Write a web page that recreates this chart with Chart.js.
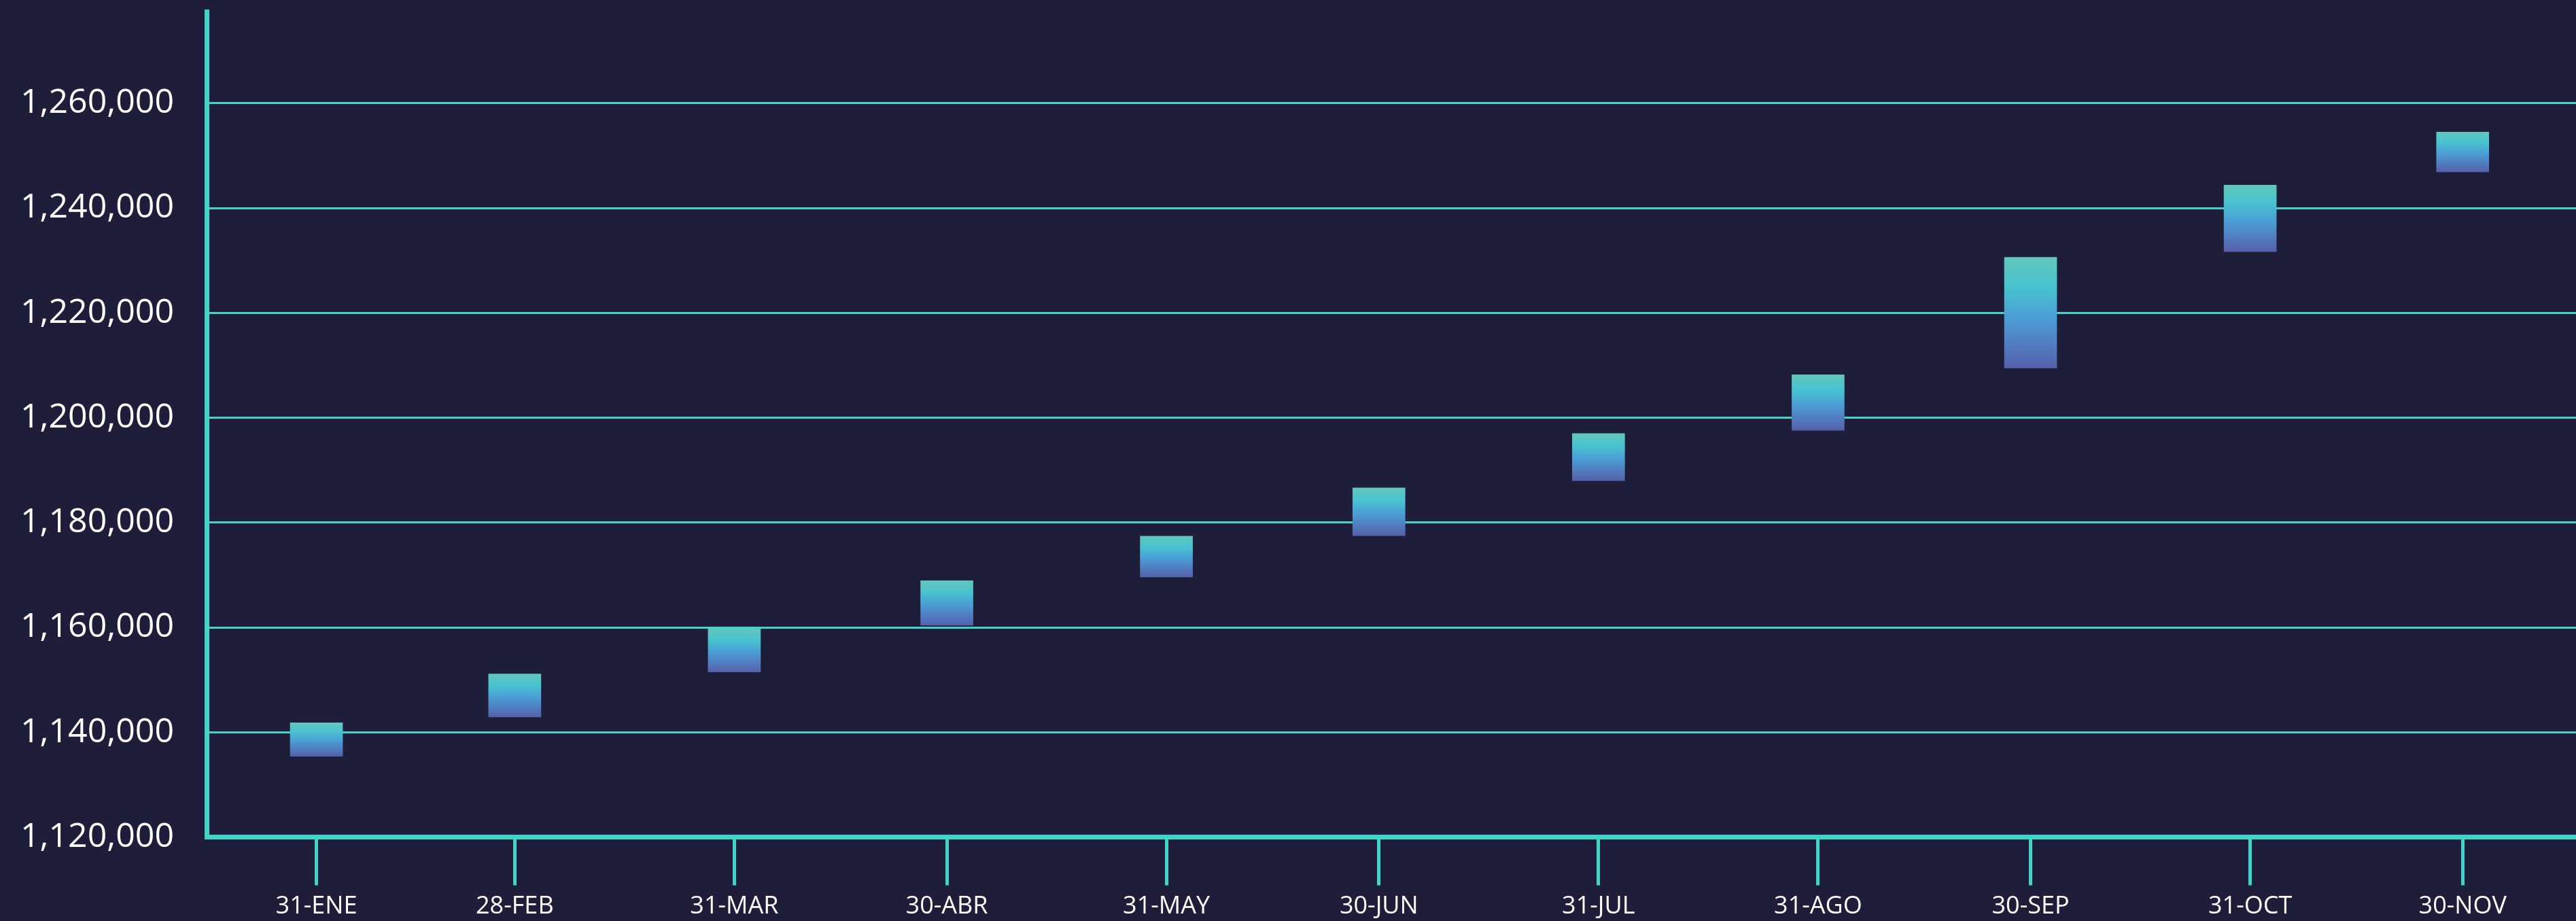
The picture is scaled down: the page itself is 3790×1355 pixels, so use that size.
<!DOCTYPE html>
<html>
<head>
<meta charset="utf-8">
<script src="https://cdn.jsdelivr.net/npm/chart.js@4.4.1/dist/chart.umd.min.js"></script>
<style>
  html, body { margin: 0; padding: 0; background: #1e1e3a; }
  #wrap { width: 3790px; height: 1355px; position: relative; }
</style>
</head>
<body>
<div id="wrap"><canvas id="c"></canvas></div>
<script>
// ---- data ----
const dates = ['01-31','02-28','03-31','04-30','05-31','06-30','07-31','08-31','09-30','10-31','11-30'];
const labels = ['31-ENE','28-FEB','31-MAR','30-ABR','31-MAY','30-JUN','31-JUL','31-AGO','30-SEP','31-OCT','30-NOV'];
const lows  = [1135400, 1142900, 1151500, 1160400, 1169600, 1177500, 1188000, 1197600, 1209500, 1231700, 1246900];
const highs = [1141800, 1151100, 1159700, 1168900, 1177400, 1186600, 1197000, 1208200, 1230600, 1244400, 1254500];
const yTicks = [1120000, 1140000, 1160000, 1180000, 1200000, 1220000, 1240000, 1260000];

// ---- helpers ----
const TEAL = '#42d4c9';
function dayOfYear(md) {
  const [m, d] = md.split('-').map(Number);
  return Math.round((Date.UTC(2023, m - 1, d) - Date.UTC(2023, 0, 1)) / 86400000);
}
const xDays = dates.map(dayOfYear);
const points = xDays.map((x, i) => ({ x: x, y: [lows[i], highs[i]] }));

Chart.defaults.font.family = "'Open Sans', sans-serif";

new Chart(document.getElementById('c'), {
  type: 'bar',
  data: {
    datasets: [{
      data: points,
      barThickness: 77,
      borderWidth: 0,
      borderSkipped: false,
      backgroundColor: (ctx) => {
        const chart = ctx.chart;
        if (!chart.chartArea || ctx.type !== 'data') return '#4a9cd4';
        const ys = chart.scales.y;
        const top = ys.getPixelForValue(ctx.raw.y[1]);
        const bot = ys.getPixelForValue(ctx.raw.y[0]);
        const g = chart.ctx.createLinearGradient(0, top, 0, bot);
        g.addColorStop(0, '#63c6bd');
        g.addColorStop(0.27, '#47c3cf');
        g.addColorStop(0.56, '#4b9bd5');
        g.addColorStop(1, '#5660ab');
        return g;
      }
    }]
  },
  options: {
    responsive: true,
    maintainAspectRatio: false,
    animation: false,
    layout: { padding: { top: 17, left: 0, right: 0, bottom: 0 } },
    plugins: { legend: { display: false }, tooltip: { enabled: false } },
    scales: {
      x: {
        type: 'linear',
        min: xDays[0] - 15.5,
        max: xDays[xDays.length - 1] + 16,
        offset: false,
        afterBuildTicks: (s) => { s.ticks = xDays.map(v => ({ value: v })); },
        afterFit: (s) => { s.height = 123.5; s.paddingLeft = 0; s.paddingRight = 0; },
        grid: { offset: false, drawOnChartArea: false, drawTicks: true, tickLength: 71, tickWidth: 5, tickColor: TEAL },
        border: { display: true, color: TEAL, width: 7 },
        ticks: {
          color: '#ffffff',
          font: { size: 36 },
          padding: 10,
          maxRotation: 0,
          autoSkip: false,
          callback: (v) => labels[xDays.indexOf(v)]
        }
      },
      y: {
        min: 1120000,
        max: 1277500,
        afterBuildTicks: (s) => { s.ticks = yTicks.map(v => ({ value: v })); },
        afterFit: (s) => { s.width = 304; s.paddingTop = 0; s.paddingBottom = 0; },
        grid: { color: TEAL, lineWidth: 3, drawTicks: false },
        border: { display: true, color: TEAL, width: 7 },
        ticks: {
          color: '#ffffff',
          font: { size: 50 },
          padding: 48,
          callback: (v) => v.toLocaleString('en-US')
        }
      }
    }
  }
});
</script>
</body>
</html>
